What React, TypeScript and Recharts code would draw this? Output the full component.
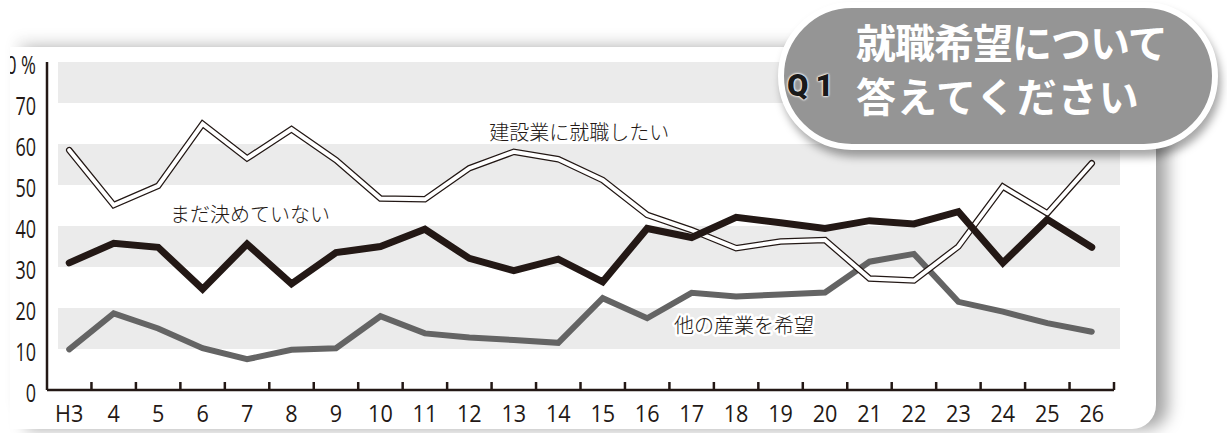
import { LineChart, Line, XAxis, YAxis, ReferenceArea, ReferenceDot } from "recharts"

// 年度（平成）
const years = ["H3", "4", "5", "6", "7", "8", "9", "10", "11", "12", "13", "14", "15", "16", "17", "18", "19", "20", "21", "22", "23", "24", "25", "26"]
// 建設業に就職したい
const wantConstruction = [58.5, 45.1, 49.8, 64.9, 56.5, 63.6, 56.1, 46.7, 46.5, 54.1, 58.1, 56.3, 51.2, 42.7, 39.0, 34.6, 36.2, 36.6, 27.2, 26.7, 35.0, 49.6, 43.1, 55.3]
// まだ決めていない
const undecided = [31.0, 35.8, 34.8, 24.6, 35.6, 25.9, 33.5, 35.0, 39.2, 32.1, 29.1, 31.9, 26.4, 39.4, 37.2, 42.1, 40.8, 39.4, 41.3, 40.5, 43.5, 31.0, 41.6, 34.8]
// 他の産業を希望
const otherIndustry = [9.9, 18.7, 15.0, 10.2, 7.5, 9.8, 10.2, 18.0, 13.8, 12.8, 12.2, 11.5, 22.4, 17.5, 23.7, 22.8, 23.3, 23.8, 31.3, 33.2, 21.5, 19.1, 16.3, 14.2]

const yTicks = [0, 10, 20, 30, 40, 50, 60, 70, 80]
const bands = [[10, 20], [30, 40], [50, 60], [70, 80]]

const INK = "#231815"
const NUM_FONT = "'Open Sans', sans-serif"
const JP_FONT = "'Noto Sans CJK JP', sans-serif"
const BAND_W = (1114 - 47) / years.length

const data = years.map((year, i) => ({
  year,
  construction: wantConstruction[i],
  undecided: undecided[i],
  other: otherIndustry[i],
}))

function YTick({ x, y, payload }: any) {
  // condensed digits like the original print
  return (
    <text
      transform={`translate(${x - 11},${y + 12}) scale(0.72,1)`}
      textAnchor="end"
      fontFamily={NUM_FONT}
      fontSize={25}
      fill={INK}
    >
      {payload.value === 80 ? "80 %" : payload.value}
    </text>
  )
}

function XTick({ x, y, payload }: any) {
  const off = payload.offset || BAND_W / 2
  return (
    <g>
      <line x1={x + off} x2={x + off} y1={y} y2={y - 8} stroke={INK} strokeWidth={2.5} />
      <text
        transform={`translate(${x},${y + 32}) scale(0.9,1)`}
        textAnchor="middle"
        fontFamily={NUM_FONT}
        fontSize={24}
        fill={INK}
      >
        {payload.value}
      </text>
    </g>
  )
}

function Band(props: any) {
  const { x, y, width, height } = props
  return <rect x={x + 11} y={y} width={width - 5} height={height} fill="#ebebeb" />
}

function seriesLabel(text: string, dx: number) {
  return (p: any) => (
    <text
      x={p.cx + dx}
      y={p.cy + 7}
      textAnchor="middle"
      fontFamily={JP_FONT}
      fontWeight={300}
      fontSize={20}
      fill={INK}
      stroke="#fff"
      strokeWidth={5}
      strokeLinejoin="round"
      paintOrder="stroke"
    >
      {text}
    </text>
  )
}

export default function App() {
  return (
    <div style={{ position: "absolute", left: 0, top: 0, width: 1227, height: 433, background: "#fff", overflow: "hidden" }}>
      <div
        style={{
          position: "absolute",
          left: 10,
          top: 47,
          width: 1146,
          height: 382,
          background: "#fff",
          overflow: "hidden",
          borderBottomRightRadius: 24,
          boxShadow: "0 -14px 14px -6px rgba(0,0,0,0.08), 14px 2px 16px -2px rgba(0,0,0,0.35)",
        }}
      >
        <div style={{ position: "absolute", left: -10, top: -47 }}>
          <LineChart width={1227} height={433} data={data} margin={{ top: 62, right: 113, bottom: 0, left: 0 }}>
            {bands.map(([a, b]) => (
              <ReferenceArea key={a} y1={a} y2={b} ifOverflow="visible" shape={Band} />
            ))}
            <XAxis
              dataKey="year"
              scale="band"
              interval={0}
              height={43}
              tickSize={0}
              tickMargin={0}
              tickLine={false}
              axisLine={{ stroke: INK, strokeWidth: 2.5 }}
              tick={<XTick />}
            />
            <YAxis
              domain={[0, 80]}
              ticks={yTicks}
              interval={0}
              width={47}
              tickSize={0}
              tickMargin={0}
              tickLine={false}
              axisLine={{ stroke: INK, strokeWidth: 2.5 }}
              tick={<YTick />}
            />
            <Line dataKey="other" stroke="#646464" strokeWidth={6} dot={false} strokeLinecap="round" isAnimationActive={false} />
            <Line dataKey="construction" stroke={INK} strokeWidth={6.5} dot={false} strokeLinecap="round" isAnimationActive={false} />
            <Line dataKey="construction" stroke="#fff" strokeWidth={4} dot={false} strokeLinecap="round" isAnimationActive={false} />
            <Line dataKey="undecided" stroke={INK} strokeWidth={7} dot={false} strokeLinecap="round" isAnimationActive={false} />
            <ReferenceDot x="7" y={42.7} r={0} shape={seriesLabel("まだ決めていない", 3)} />
            <ReferenceDot x="14" y={62.7} r={0} shape={seriesLabel("建設業に就職したい", 21)} />
            <ReferenceDot x="18" y={15.6} r={0} shape={seriesLabel("他の産業を希望", 8)} />
          </LineChart>
        </div>
      </div>
      <div
        style={{
          position: "absolute",
          left: 778,
          top: 2,
          width: 428,
          height: 136,
          borderRadius: 74,
          background: "#959595",
          border: "6px solid #fff",
          boxShadow: "3px 7px 9px rgba(0,0,0,0.35)",
        }}
      />
      <div
        style={{
          position: "absolute",
          left: 787,
          top: 68,
          fontFamily: "Roboto, sans-serif",
          fontWeight: 900,
          fontSize: 31,
          lineHeight: "36px",
          color: "#1a1a1a",
          letterSpacing: 7,
          textShadow: "0 0 2px #fff, 0 0 2px #fff, 0 0 3px #fff",
        }}
      >
        Q1
      </div>
      <div
        style={{
          position: "absolute",
          left: 856,
          top: 14,
          fontFamily: JP_FONT,
          fontWeight: 700,
          fontSize: 40,
          lineHeight: "54px",
          color: "#fff",
          whiteSpace: "nowrap",
        }}
      >
        <div style={{ letterSpacing: -1 }}>就職希望について</div>
        <div style={{ letterSpacing: 1 }}>答えてください</div>
      </div>
    </div>
  )
}
